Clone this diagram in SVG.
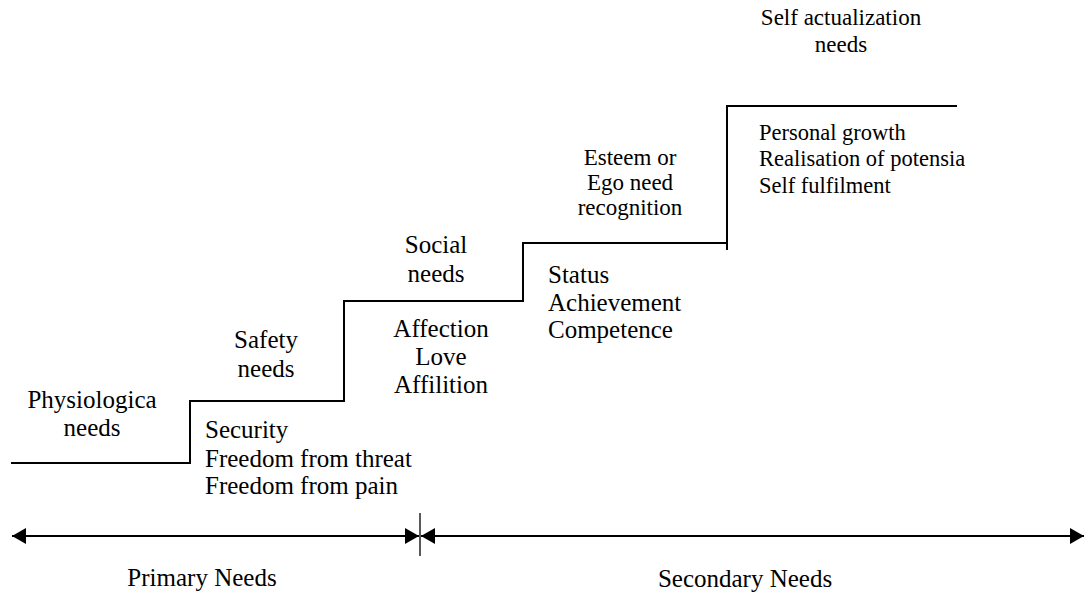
<svg xmlns="http://www.w3.org/2000/svg" width="1085" height="594" viewBox="0 0 1085 594">
<defs>
<style>
text{font-family:"Liberation Serif","Times New Roman",serif;font-size:25px;fill:#000}
.c{text-anchor:middle}
.s{font-size:23px}
.p{font-size:22.5px}
.ln{stroke:#000;stroke-width:2;fill:none}
.thin{stroke:#000;stroke-width:1.3;fill:none}
</style>
<marker id="ah" viewBox="0 0 14 16" refX="14" refY="8" markerWidth="14" markerHeight="16" markerUnits="userSpaceOnUse" orient="auto-start-reverse">
<path d="M0,0 L14,8 L0,16 Z" fill="#000"/>
</marker>
</defs>
<rect width="1085" height="594" fill="#fff"/>
<g id="connectors">
<path class="ln" d="M11,463 H190 V401 H344 V301 H523 V243 H727"/>
<path class="ln" d="M727,250 V106 H957"/>
<line class="ln" x1="12" y1="536" x2="419" y2="536" marker-start="url(#ah)" marker-end="url(#ah)"/>
<line class="ln" x1="421" y1="536" x2="1084" y2="536" marker-start="url(#ah)" marker-end="url(#ah)"/>
<line class="thin" x1="420" y1="513" x2="420" y2="556"/>
</g>
<g id="physiological">
<text class="c" x="92" y="408">Physiologica</text>
<text class="c" x="92" y="436">needs</text>
</g>
<g id="safety">
<text class="c" x="266" y="348">Safety</text>
<text class="c" x="266" y="377">needs</text>
<text x="205" y="438">Security</text>
<text x="205" y="467">Freedom from threat</text>
<text x="205" y="494">Freedom from pain</text>
</g>
<g id="social">
<text class="c" x="436" y="253">Social</text>
<text class="c" x="436" y="282">needs</text>
<text class="c" x="441" y="337">Affection</text>
<text class="c" x="441" y="365">Love</text>
<text class="c" x="441" y="393">Affilition</text>
</g>
<g id="esteem">
<text class="c s" x="630" y="165">Esteem or</text>
<text class="c s" x="630" y="190">Ego need</text>
<text class="c s" x="630" y="215">recognition</text>
<text x="548" y="283">Status</text>
<text x="548" y="311">Achievement</text>
<text x="548" y="338">Competence</text>
</g>
<g id="self-actualization">
<text class="c s" x="841" y="25">Self actualization</text>
<text class="c s" x="841" y="52">needs</text>
<text class="p" x="759" y="140">Personal growth</text>
<text class="p" x="759" y="166">Realisation of potensia</text>
<text class="p" x="759" y="193">Self fulfilment</text>
</g>
<g id="axis-labels">
<text class="c" x="202" y="586">Primary Needs</text>
<text class="c" x="745" y="587">Secondary Needs</text>
</g>
</svg>
